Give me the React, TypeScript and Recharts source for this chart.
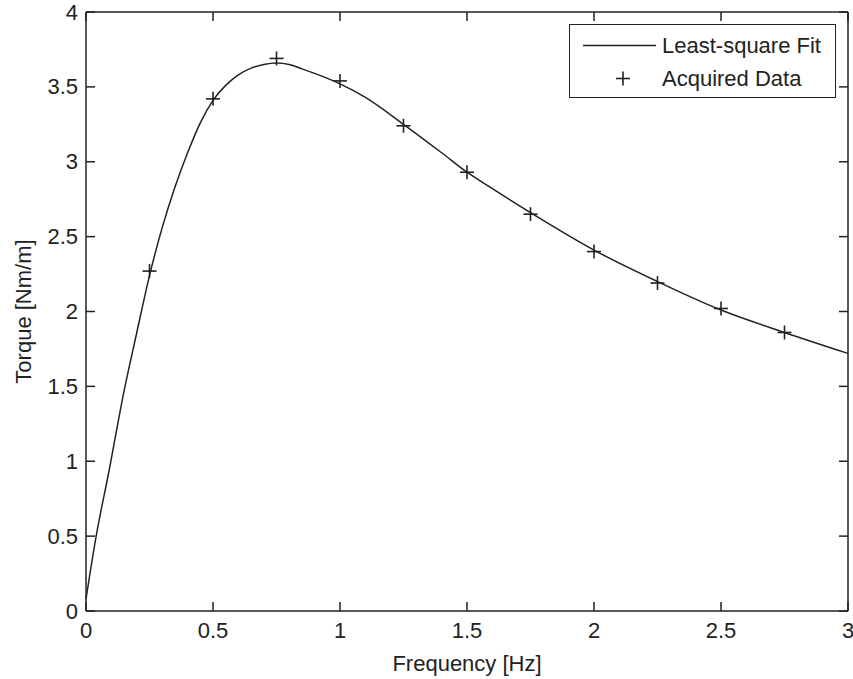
import { ComposedChart, Legend, Line, Scatter, XAxis, YAxis } from 'recharts';

const freqTicks = [0, 0.5, 1, 1.5, 2, 2.5, 3];
const torqueTicks = [0, 0.5, 1, 1.5, 2, 2.5, 3, 3.5, 4];

// least-square fit curve
const fitFreq = [0, 0.04, 0.09, 0.15, 0.2, 0.25, 0.3, 0.35, 0.4, 0.45, 0.5, 0.55, 0.6, 0.65, 0.7, 0.75, 0.8, 0.85, 0.9, 1.0, 1.1, 1.25, 1.4, 1.5, 1.6, 1.75, 2.0, 2.25, 2.5, 2.75, 3.0];
const fitTorque = [0.08, 0.5, 0.93, 1.47, 1.86, 2.24, 2.56, 2.83, 3.06, 3.26, 3.41, 3.51, 3.58, 3.625, 3.65, 3.66, 3.65, 3.62, 3.59, 3.52, 3.43, 3.25, 3.06, 2.93, 2.82, 2.66, 2.41, 2.2, 2.01, 1.86, 1.72];

// measured points
const dataFreq = [0.25, 0.5, 0.75, 1.0, 1.25, 1.5, 1.75, 2.0, 2.25, 2.5, 2.75];
const dataTorque = [2.27, 3.42, 3.69, 3.54, 3.24, 2.93, 2.65, 2.4, 2.19, 2.02, 1.86];

const fitRows = fitFreq.map((f, i) => ({ f, t: fitTorque[i] }));
const dataRows = dataFreq.map((f, i) => ({ f, t: dataTorque[i] }));

const INK = '#222';
const FONT = '"Liberation Sans", Arial, sans-serif';
const axisStroke = { stroke: INK, strokeWidth: 1.5 };

function BottomTick({ x, y, payload }: any) {
  return (
    <text x={x} y={y + 19} textAnchor="middle" dominantBaseline="central" fontSize={22} fill={INK} fontFamily={FONT}>
      {payload.value}
    </text>
  );
}

function LeftTick({ x, y, payload }: any) {
  return (
    <text x={x - 8} y={y} textAnchor="end" dominantBaseline="central" fontSize={22} fill={INK} fontFamily={FONT}>
      {payload.value}
    </text>
  );
}

// mirrored axes keep their tick marks but carry no labels
function NoLabel() {
  return <g />;
}

function PlusMark({ cx, cy }: any) {
  return (
    <g stroke={INK} strokeWidth={1.6}>
      <line x1={cx - 7} y1={cy} x2={cx + 7} y2={cy} />
      <line x1={cx} y1={cy - 7} x2={cx} y2={cy + 7} />
    </g>
  );
}

function FitLegend({ payload }: any) {
  const items = [...(payload ?? [])].sort((a: any, b: any) => (a.type === 'line' ? -1 : b.type === 'line' ? 1 : 0));
  return (
    <div
      style={{
        width: 267,
        height: 74,
        boxSizing: 'border-box',
        border: `1.5px solid ${INK}`,
        background: '#fff',
        paddingTop: 4,
        fontFamily: FONT,
        fontSize: 22,
        color: INK,
      }}
    >
      {items.map((entry: any) => (
        <div key={entry.value} style={{ height: 33, display: 'flex', alignItems: 'center' }}>
          <svg width={92} height={33}>
            {entry.type === 'line' ? (
              <line x1={13} y1={16.5} x2={86} y2={16.5} stroke={INK} strokeWidth={1.5} />
            ) : (
              <PlusMark cx={53} cy={16.5} />
            )}
          </svg>
          <span>{entry.value}</span>
        </div>
      ))}
    </div>
  );
}

export default function App() {
  return (
    <div style={{ position: 'absolute', left: 0, top: 0, background: '#fff' }}>
      <ComposedChart width={853} height={679} margin={{ top: 11, right: 4, left: 0, bottom: 0 }}>
        <XAxis
          xAxisId="bottom"
          dataKey="f"
          type="number"
          domain={[0, 3]}
          ticks={freqTicks}
          height={68}
          tickSize={-9}
          tickMargin={9}
          tickLine={axisStroke}
          tick={<BottomTick />}
          axisLine={axisStroke}
          label={{ value: 'Frequency [Hz]', position: 'insideBottom', offset: 8, fontSize: 22, fill: INK, fontFamily: FONT }}
        />
        <XAxis
          xAxisId="top"
          orientation="top"
          dataKey="f"
          type="number"
          domain={[0, 3]}
          ticks={freqTicks}
          height={1}
          tickSize={-9}
          tickLine={axisStroke}
          tick={<NoLabel />}
          axisLine={axisStroke}
        />
        <YAxis
          yAxisId="left"
          type="number"
          domain={[0, 4]}
          ticks={torqueTicks}
          width={86}
          tickSize={-9}
          tickMargin={9}
          tickLine={axisStroke}
          tick={<LeftTick />}
          axisLine={axisStroke}
          label={{
            value: 'Torque [Nm/m]',
            angle: -90,
            position: 'insideLeft',
            offset: 23,
            fontSize: 22,
            fill: INK,
            fontFamily: FONT,
            style: { textAnchor: 'middle' },
          }}
        />
        <YAxis
          yAxisId="right"
          orientation="right"
          type="number"
          domain={[0, 4]}
          ticks={torqueTicks}
          width={1}
          tickSize={-9}
          tickLine={axisStroke}
          tick={<NoLabel />}
          axisLine={axisStroke}
        />
        <Line
          xAxisId="top"
          yAxisId="right"
          data={fitRows}
          dataKey="t"
          name="Least-square Fit"
          type="monotone"
          stroke={INK}
          strokeWidth={1.5}
          dot={false}
          legendType="line"
          isAnimationActive={false}
        />
        <Scatter
          xAxisId="bottom"
          yAxisId="left"
          data={dataRows}
          dataKey="t"
          name="Acquired Data"
          shape={<PlusMark />}
          legendType="cross"
          isAnimationActive={false}
        />
        <Legend
          layout="vertical"
          align="center"
          verticalAlign="middle"
          wrapperStyle={{ top: 24, left: 569, width: 267, height: 74 }}
          content={<FitLegend />}
        />
      </ComposedChart>
    </div>
  );
}
